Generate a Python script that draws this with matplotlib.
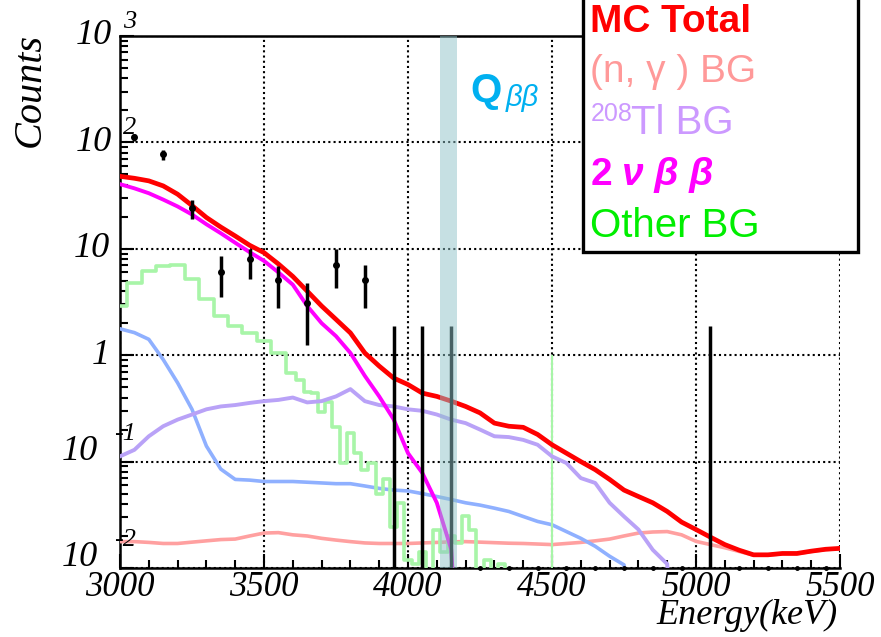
import numpy as np
import matplotlib
matplotlib.use("Agg")
import matplotlib.pyplot as plt
from matplotlib.patches import Rectangle
from matplotlib.ticker import MultipleLocator, LogLocator, NullFormatter
from matplotlib.transforms import blended_transform_factory, offset_copy

# ---- MC spectra (counts per bin), 50 keV grid ----
energy = [3000, 3050, 3100, 3150, 3200, 3250, 3300, 3350, 3400, 3450,
          3500, 3550, 3600, 3650, 3700, 3750, 3800, 3850, 3900, 3950,
          4000, 4050, 4100, 4150, 4200, 4250, 4300, 4350, 4400, 4450,
          4500, 4550, 4600, 4650, 4700, 4750, 4800, 4850, 4900, 4950,
          5000, 5050, 5100, 5150, 5200, 5250, 5300, 5350, 5400, 5450,
          5500]

mc_total = [48, 46, 43.5, 39, 32.6, 25.5, 19.7, 16, 13.2, 10.8,
            9.2, 7.2, 5.5, 4.0, 2.9, 2.17, 1.62, 1.05, 0.79, 0.61,
            0.53, 0.44, 0.41, 0.37, 0.33, 0.287, 0.23, 0.215, 0.21, 0.18,
            0.144, 0.12, 0.10, 0.084, 0.068, 0.054, 0.047, 0.041, 0.034, 0.027,
            0.023, 0.0195, 0.0166, 0.0147, 0.0133, 0.0133, 0.0137, 0.0137, 0.0144, 0.015,
            0.0153]

two_nu = [40.5, 37, 33.3, 29, 25, 21, 17, 14, 11.4, 9.3,
          7.7, 6.0, 4.6, 2.9, 2.0, 1.51, 1.05, 0.64, 0.41, 0.25,
          0.12, 0.078, 0.041, 0.015, 0, 0, 0, 0, 0, 0,
          0, 0, 0, 0, 0, 0, 0, 0, 0, 0,
          0, 0, 0, 0, 0, 0, 0, 0, 0, 0,
          0]

tl208 = [0.112, 0.129, 0.173, 0.215, 0.248, 0.277, 0.31, 0.33, 0.34, 0.356,
         0.37, 0.38, 0.40, 0.36, 0.37, 0.41, 0.48, 0.37, 0.34, 0.33,
         0.31, 0.30, 0.277, 0.248, 0.23, 0.20, 0.173, 0.17, 0.16, 0.144,
         0.112, 0.097, 0.07, 0.063, 0.041, 0.0305, 0.023, 0.0148, 0.0109, 0,
         0, 0, 0, 0, 0, 0, 0, 0, 0, 0,
         0]

ngamma = [0.0177, 0.0177, 0.0174, 0.017, 0.017, 0.0175, 0.018, 0.0185, 0.0187, 0.02,
          0.0213, 0.0215, 0.0205, 0.02, 0.019, 0.0183, 0.0177, 0.0172, 0.017, 0.017,
          0.017, 0.0172, 0.0174, 0.0176, 0.0177, 0.0175, 0.0173, 0.0171, 0.017, 0.0168,
          0.0166, 0.017, 0.0174, 0.018, 0.0187, 0.02, 0.0213, 0.0218, 0.022, 0.0205,
          0.0178, 0.0166, 0.0155, 0.0143, 0.0132, 0.0132, 0.0136, 0.0136, 0.0143, 0.0149,
          0.0152]

blue_bg = [1.77, 1.63, 1.41, 0.91, 0.55, 0.31, 0.14, 0.085, 0.068, 0.067,
           0.065, 0.065, 0.065, 0.064, 0.063, 0.062, 0.062, 0.059, 0.056, 0.054,
           0.053, 0.050, 0.047, 0.044, 0.041, 0.039, 0.0365, 0.034, 0.0305, 0.0274,
           0.0255, 0.022, 0.019, 0.016, 0.0129, 0.0107, 0, 0, 0, 0,
           0, 0, 0, 0, 0, 0, 0, 0, 0, 0,
           0]

# other BG is noisy, finer bins where it fluctuates
other_e = [3000, 3050, 3100, 3150, 3200, 3250, 3300, 3350, 3400, 3450, 3500, 3550, 3600,
           3625, 3650, 3675, 3700, 3725, 3750, 3775, 3800, 3825, 3850, 3875, 3900, 3925, 3950, 3975,
           4000, 4025, 4050, 4075, 4100, 4125, 4150, 4175, 4200, 4225, 4250, 4275, 4300, 4325, 4350,
           4400, 5500]
other_bg = [2.9, 4.8, 6.2, 6.9, 7.1, 5.2, 3.35, 2.33, 1.88, 1.63, 1.36, 1.05, 0.68,
            0.59, 0.45, 0.44, 0.29, 0.36, 0.21, 0.097, 0.186, 0.12, 0.084, 0.097, 0.05, 0.068, 0.0245, 0.041,
            0.012, 0.011, 0.014, 0, 0.023, 0.014, 0.02, 0.017, 0.0305, 0.023, 0, 0.012, 0, 0.011, 0,
            0, 0]
other_spike_e = [4500]
other_spike_v = [1.0]

# ---- data (100 keV bins) ----
data_e = [3050, 3150, 3250, 3350, 3450, 3550, 3650, 3750, 3850]
data_n = [112, 77, 24.4, 6.0, 8.1, 5.1, 3.1, 7.1, 5.1]
data_lo = [104, 68, 19, 3.5, 5.2, 2.8, 1.26, 4.3, 2.8]
data_hi = [120, 84, 29, 8.6, 10.0, 6.9, 4.8, 9.9, 7.1]
empty_e = [3950, 4050, 4150, 5050]
empty_hi = [1.9, 1.9, 1.9, 1.9]
zero_e = [4250, 4350, 4450, 4550, 4650, 4750, 4850, 4950, 5150, 5250, 5350, 5450]

qbb_lo, qbb_hi = 4111, 4170

xticks = [3000, 3500, 4000, 4500, 5000, 5500]
ytick_vals = [1e-2, 1e-1, 1, 10, 100, 1000]
ytick_base = ['10', '10', '1', '10', '10', '10']
ytick_exp = ['-2', '-1', '', '', '2', '3']

floor = 1e-4
def clip(v):
    return np.clip(np.asarray(v, dtype=float), floor, None)

serif = 'Liberation Serif'

fig = plt.figure(figsize=(8.81, 6.37), dpi=100)
ax = fig.add_axes([120/881, 1-568/637, 720/881, 532/637])
ax.set_yscale('log')
ax.set_xlim(3000, 5500)
ax.set_ylim(1e-2, 1e3)

ax.plot(energy, clip(ngamma), color='#ffa0a0', lw=2.6, zorder=3)
ax.plot(energy, clip(blue_bg), color='#8fb0ff', lw=2.6, zorder=3)
ax.step(other_e, clip(other_bg), where='mid', color='#a8f5a8', lw=2.6, zorder=3)
ax.vlines(other_spike_e, floor, other_spike_v, color='#a8f5a8', lw=1.5, zorder=3)
ax.plot(energy, clip(tl208), color='#b9a2f7', lw=2.8, zorder=3)
ax.plot(energy, clip(two_nu), color='#ff00ff', lw=2.8, zorder=4)
ax.plot(energy, clip(mc_total), color='#ff0000', lw=3.4, zorder=5)

n = np.array(data_n)
ax.errorbar(data_e, data_n, yerr=[n - np.array(data_lo), np.array(data_hi) - n],
            fmt='o', color='black', ms=4, elinewidth=2.5, capsize=0, zorder=6)
ax.vlines(empty_e, floor, empty_hi, color='black', lw=2.5, zorder=6)
ax.plot(zero_e, [1e-2] * len(zero_e), 'o', color='black', ms=2.5, clip_on=False, zorder=6)

ax.axvspan(qbb_lo, qbb_hi, color='#8fc3c8', alpha=0.5, lw=0, zorder=7)

# axes style
ax.grid(True, which='major', color='black', ls=(0, (1, 1.5)), lw=1.5)
ax.set_axisbelow(True)
ax.xaxis.set_major_locator(MultipleLocator(500))
ax.xaxis.set_minor_locator(MultipleLocator(100))
ax.yaxis.set_major_locator(LogLocator(base=10, numticks=10))
ax.yaxis.set_minor_locator(LogLocator(base=10, subs=np.arange(2, 10), numticks=10))
ax.yaxis.set_minor_formatter(NullFormatter())
ax.tick_params(which='both', direction='in', top=False, right=False, width=1.5)
ax.tick_params(which='major', length=10)
ax.tick_params(which='minor', length=5.5)
ax.set_xticks(xticks)
ax.set_xticklabels([str(t) for t in xticks], fontsize=25, family=serif, style='italic')
ax.tick_params(axis='x', pad=2)
ax.set_yticklabels([])
for s in ['left', 'bottom', 'top']:
    ax.spines[s].set_linewidth(1.8)
ax.spines['right'].set_visible(False)

trans = blended_transform_factory(ax.transAxes, ax.transData)
for v, b, e in zip(ytick_vals, ytick_base, ytick_exp):
    if e.startswith('-'):
        bx, by, ex, ey = -22, 10, -6, 28
    elif e:
        bx, by, ex, ey = -8, 0, 3, 14
    else:
        bx, by, ex, ey = -10, 0, 0, 0
    ax.text(0, v, b, transform=offset_copy(trans, fig=fig, x=bx, y=by, units='dots'),
            ha='right', va='center', fontsize=26, family=serif, style='italic')
    if e:
        ax.text(0, v, e, transform=offset_copy(trans, fig=fig, x=ex, y=ey, units='dots'),
                ha='left', va='center', fontsize=19, family=serif, style='italic')

fig.text(30/881, 1-90/637, 'Counts', rotation=90, ha='center', va='center',
         fontsize=29, family=serif, style='italic')
fig.text(838/881, 1-615/637, 'Energy(keV)', ha='right', va='center',
         fontsize=26, family=serif, style='italic')

# Q value label
fig.text(470/881, 1-91/637, 'Q', ha='left', va='center', fontsize=29,
         weight='bold', family='Liberation Sans', color='#00b0f0')
fig.text(506/881, 1-98/637, 'ββ', ha='left', va='center', fontsize=21,
         style='italic', family='Liberation Sans', color='#00b0f0')

# legend box
box = Rectangle((583/881, 1-252/637), 275/881, 300/637, transform=fig.transFigure,
                facecolor='white', edgecolor='black', lw=2.4, zorder=5)
fig.add_artist(box)
sans = ['Liberation Sans', 'Noto Sans CJK JP']
def ltext(x, y, s, **kw):
    fig.text(x/881, 1-y/637, s, ha='left', va='center', family=sans, zorder=6, **kw)

ltext(590, 22, 'MC Total', fontsize=28, weight='bold', color='#ff0000')
ltext(590, 72, '(n, γ ) BG', fontsize=28, color='#ff9999')
ltext(591, 114, '208', fontsize=18, color='#cc99ff')
ltext(631, 123, 'Tl BG', fontsize=29, color='#cc99ff')
ltext(591, 175, '2', fontsize=28, weight='bold', color='#ff00ff')
ltext(622, 175, 'ν β β', fontsize=28, weight='bold', style='italic', color='#ff00ff')
ltext(590, 226, 'Other BG', fontsize=29, color='#00ee00')

fig.savefig('out.png', dpi=100)
